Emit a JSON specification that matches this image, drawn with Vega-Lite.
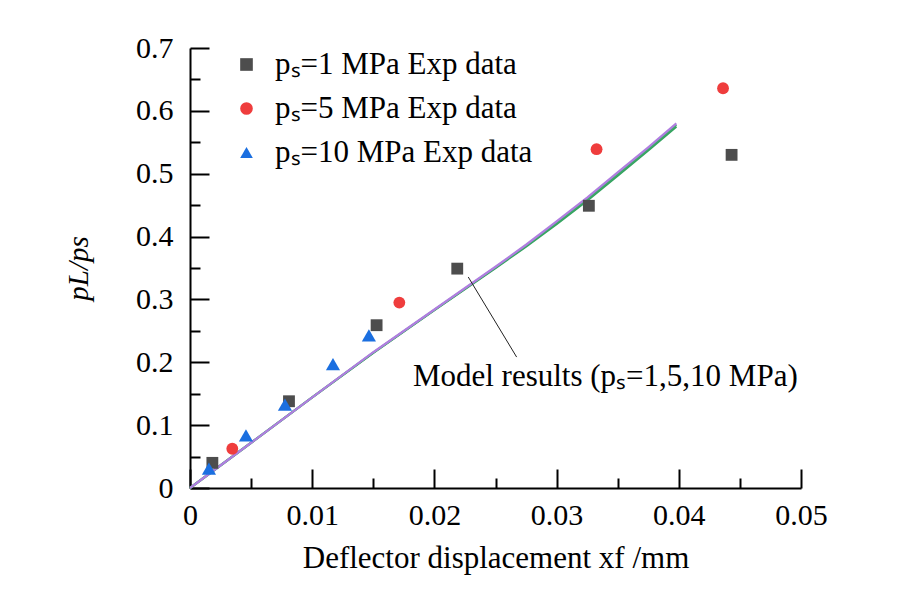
{
  "$schema": "https://vega.github.io/schema/vega-lite/v6.json",
  "autosize": "none",
  "width": 611,
  "height": 440,
  "padding": {"left": 190, "top": 48, "right": 107, "bottom": 104},
  "background": "white",
  "config": {
    "view": {"stroke": null},
    "font": "Liberation Serif",
    "axis": {
      "grid": false,
      "domainColor": "black",
      "domainWidth": 2,
      "tickColor": "black",
      "tickWidth": 2,
      "labelFont": "Liberation Serif",
      "labelFontSize": 30,
      "labelColor": "black",
      "labelFlush": false,
      "labelOverlap": false,
      "titleFont": "Liberation Serif",
      "titleFontSize": 31,
      "titleFontWeight": "normal",
      "titleColor": "black"
    }
  },
  "datasets": {
    "model": [
      {"x": 0, "y": 0, "model": "1 MPa"},
      {"x": 0.005, "y": 0.072, "model": "1 MPa"},
      {"x": 0.01, "y": 0.144, "model": "1 MPa"},
      {"x": 0.015, "y": 0.215, "model": "1 MPa"},
      {"x": 0.02, "y": 0.283, "model": "1 MPa"},
      {"x": 0.025, "y": 0.35, "model": "1 MPa"},
      {"x": 0.0275, "y": 0.384, "model": "1 MPa"},
      {"x": 0.03, "y": 0.42, "model": "1 MPa"},
      {"x": 0.0325, "y": 0.457, "model": "1 MPa"},
      {"x": 0.035, "y": 0.497, "model": "1 MPa"},
      {"x": 0.0375, "y": 0.537, "model": "1 MPa"},
      {"x": 0.0398, "y": 0.575, "model": "1 MPa"},
      {"x": 0, "y": 0, "model": "5 MPa"},
      {"x": 0.005, "y": 0.072, "model": "5 MPa"},
      {"x": 0.01, "y": 0.144, "model": "5 MPa"},
      {"x": 0.015, "y": 0.2155, "model": "5 MPa"},
      {"x": 0.02, "y": 0.2835, "model": "5 MPa"},
      {"x": 0.025, "y": 0.351, "model": "5 MPa"},
      {"x": 0.0275, "y": 0.3855, "model": "5 MPa"},
      {"x": 0.03, "y": 0.422, "model": "5 MPa"},
      {"x": 0.0325, "y": 0.4595, "model": "5 MPa"},
      {"x": 0.035, "y": 0.4995, "model": "5 MPa"},
      {"x": 0.0375, "y": 0.5395, "model": "5 MPa"},
      {"x": 0.0398, "y": 0.5775, "model": "5 MPa"},
      {"x": 0, "y": 0, "model": "10 MPa"},
      {"x": 0.005, "y": 0.072, "model": "10 MPa"},
      {"x": 0.01, "y": 0.144, "model": "10 MPa"},
      {"x": 0.015, "y": 0.216, "model": "10 MPa"},
      {"x": 0.02, "y": 0.284, "model": "10 MPa"},
      {"x": 0.025, "y": 0.352, "model": "10 MPa"},
      {"x": 0.0275, "y": 0.387, "model": "10 MPa"},
      {"x": 0.03, "y": 0.424, "model": "10 MPa"},
      {"x": 0.0325, "y": 0.462, "model": "10 MPa"},
      {"x": 0.035, "y": 0.502, "model": "10 MPa"},
      {"x": 0.0375, "y": 0.542, "model": "10 MPa"},
      {"x": 0.0398, "y": 0.58, "model": "10 MPa"}
    ],
    "exp": [
      {"x": 0.00183, "y": 0.040, "series": "pₛ=1 MPa Exp data"},
      {"x": 0.0081, "y": 0.138, "series": "pₛ=1 MPa Exp data"},
      {"x": 0.01527, "y": 0.259, "series": "pₛ=1 MPa Exp data"},
      {"x": 0.02187, "y": 0.349, "series": "pₛ=1 MPa Exp data"},
      {"x": 0.03264, "y": 0.449, "series": "pₛ=1 MPa Exp data"},
      {"x": 0.04432, "y": 0.530, "series": "pₛ=1 MPa Exp data"},
      {"x": 0.00346, "y": 0.0624, "series": "pₛ=5 MPa Exp data"},
      {"x": 0.01713, "y": 0.295, "series": "pₛ=5 MPa Exp data"},
      {"x": 0.03327, "y": 0.539, "series": "pₛ=5 MPa Exp data"},
      {"x": 0.04362, "y": 0.636, "series": "pₛ=5 MPa Exp data"},
      {"x": 0.00155, "y": 0.031, "series": "pₛ=10 MPa Exp data"},
      {"x": 0.00458, "y": 0.0836, "series": "pₛ=10 MPa Exp data"},
      {"x": 0.00777, "y": 0.1325, "series": "pₛ=10 MPa Exp data"},
      {"x": 0.0117, "y": 0.197, "series": "pₛ=10 MPa Exp data"},
      {"x": 0.01464, "y": 0.243, "series": "pₛ=10 MPa Exp data"}
    ],
    "annot": [
      {"x": 0.02277, "y": 0.3357, "x2": 0.02673, "y2": 0.2083, "x3": 0.01824, "y3": 0.176, "label": "Model results (pₛ=1,5,10 MPa)"}
    ]
  },
  "layer": [
    {
      "data": {"name": "model"},
      "mark": {"type": "line", "strokeWidth": 2.2},
      "encoding": {
        "x": {
          "field": "x", "type": "quantitative",
          "scale": {"domain": [0, 0.05], "nice": false},
          "axis": {
            "orient": "bottom",
            "values": [0, 0.01, 0.02, 0.03, 0.04, 0.05],
            "format": "~g",
            "ticks": false,
            "labelPadding": 12,
            "title": "Deflector displacement xf /mm",
            "titlePadding": 13
          }
        },
        "y": {
          "field": "y", "type": "quantitative",
          "scale": {"domain": [0, 0.7], "nice": false},
          "axis": {
            "orient": "left",
            "values": [0, 0.1, 0.2, 0.3, 0.4, 0.5, 0.6, 0.7],
            "format": "~g",
            "ticks": false,
            "labelPadding": 17,
            "title": "pL/ps",
            "titleFontStyle": "italic",
            "titleFontSize": 29,
            "titlePadding": 42
          }
        },
        "stroke": {
          "field": "model", "type": "nominal",
          "scale": {"domain": ["1 MPa", "5 MPa", "10 MPa"], "range": ["#34a35f", "#3fa86a", "#b07ee0"]},
          "legend": null
        }
      }
    },
    {
      "data": {"name": "exp"},
      "mark": {"type": "point", "filled": true, "opacity": 1},
      "encoding": {
        "x": {
          "field": "x", "type": "quantitative",
          "axis": {
            "orient": "bottom",
            "values": [0, 0.01, 0.02, 0.03, 0.04, 0.05],
            "offset": -19,
            "tickSize": 19,
            "labels": false,
            "domain": false,
            "title": null
          }
        },
        "y": {
          "field": "y", "type": "quantitative",
          "axis": {
            "orient": "left",
            "values": [0, 0.1, 0.2, 0.3, 0.4, 0.5, 0.6, 0.7],
            "offset": -19,
            "tickSize": 19,
            "labels": false,
            "domain": false,
            "title": null
          }
        },
        "size": {
          "condition": {"test": "datum.series === 'pₛ=10 MPa Exp data'", "value": 200},
          "value": 140
        },
        "fill": {
          "field": "series", "type": "nominal",
          "scale": {"domain": ["pₛ=1 MPa Exp data", "pₛ=5 MPa Exp data", "pₛ=10 MPa Exp data"], "range": ["#4d4d4d", "#ef3d3d", "#1b6fe0"]},
          "legend": {
            "orient": "none", "legendX": 41, "legendY": 1, "title": null,
            "labelFont": "Liberation Serif", "labelFontSize": 31, "labelColor": "black",
            "symbolSize": 160, "symbolStrokeWidth": 0, "rowPadding": 12, "labelOffset": 13,
            "padding": 0, "labelLimit": 500
          }
        },
        "shape": {
          "field": "series", "type": "nominal",
          "scale": {"domain": ["pₛ=1 MPa Exp data", "pₛ=5 MPa Exp data", "pₛ=10 MPa Exp data"], "range": ["square", "circle", "triangle-up"]},
          "legend": {
            "orient": "none", "legendX": 41, "legendY": 1, "title": null,
            "labelFont": "Liberation Serif", "labelFontSize": 31, "labelColor": "black",
            "symbolSize": 160, "symbolStrokeWidth": 0, "rowPadding": 12, "labelOffset": 13,
            "padding": 0, "labelLimit": 500
          }
        }
      }
    },
    {
      "data": {"name": "annot"},
      "mark": {"type": "rule", "stroke": "#222222", "strokeWidth": 1},
      "encoding": {
        "x": {
          "field": "x", "type": "quantitative",
          "axis": {
            "orient": "bottom",
            "values": [0.005, 0.015, 0.025, 0.035, 0.045],
            "offset": -10,
            "tickSize": 10,
            "labels": false,
            "domain": false,
            "title": null
          }
        },
        "y": {
          "field": "y", "type": "quantitative",
          "axis": {
            "orient": "left",
            "values": [0.05, 0.15, 0.25, 0.35, 0.45, 0.55, 0.65],
            "offset": -10,
            "tickSize": 10,
            "labels": false,
            "domain": false,
            "title": null
          }
        },
        "x2": {"field": "x2"},
        "y2": {"field": "y2"}
      }
    },
    {
      "data": {"name": "annot"},
      "mark": {"type": "text", "align": "left", "baseline": "middle", "font": "Liberation Serif", "fontSize": 31, "color": "black"},
      "encoding": {
        "x": {"field": "x3", "type": "quantitative", "axis": null},
        "y": {"field": "y3", "type": "quantitative", "axis": null},
        "text": {"field": "label"}
      }
    }
  ],
  "resolve": {"axis": {"x": "independent", "y": "independent"}}
}
